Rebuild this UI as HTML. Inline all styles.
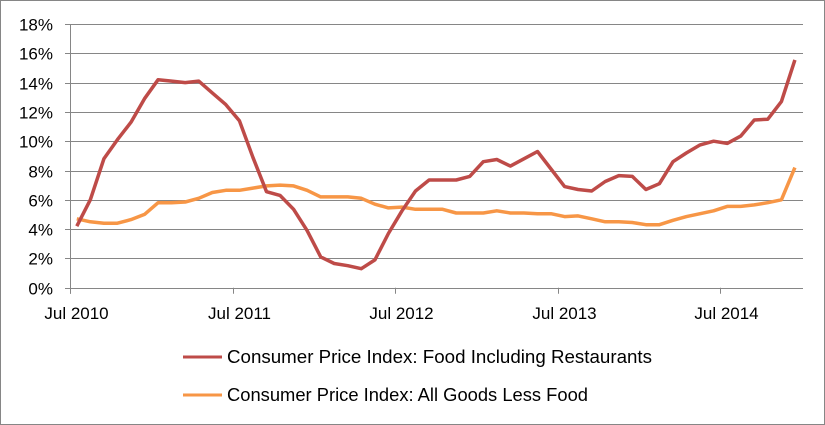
<!DOCTYPE html>
<html><head><meta charset="utf-8"><style>
html,body{margin:0;padding:0;background:#fff}
svg{display:block;font-family:"Liberation Sans",Arial,sans-serif}
</style></head><body>
<svg width="825" height="425" viewBox="0 0 825 425">
<rect x="0.5" y="0.5" width="824" height="424" fill="#fff" stroke="#868686"/>
<g id="grid"></g><g id="axes"></g><g id="series"></g>
<g>
<line x1="183" y1="357" x2="222" y2="357" stroke="#BE4B48" stroke-width="3"/>
<text x="227" y="363" font-size="18" fill="#000" textLength="425" lengthAdjust="spacingAndGlyphs">Consumer Price Index: Food Including Restaurants</text>
<line x1="183" y1="395" x2="222" y2="395" stroke="#F79646" stroke-width="3"/>
<text x="227" y="401" font-size="18" fill="#000" textLength="361" lengthAdjust="spacingAndGlyphs">Consumer Price Index: All Goods Less Food</text>
</g>
</svg>
<script>
const yTicks=[0,2,4,6,8,10,12,14,16,18];
const xLabels=["Jul 2010","Jul 2011","Jul 2012","Jul 2013","Jul 2014"];
const food=[4.2,6.0,8.8,10.1,11.3,12.9,14.2,14.1,14.0,14.1,13.3,12.5,11.4,8.9,6.55,6.3,5.35,3.9,2.1,1.65,1.5,1.3,1.9,3.7,5.25,6.6,7.35,7.35,7.35,7.6,8.6,8.75,8.3,8.8,9.3,8.1,6.9,6.7,6.6,7.25,7.65,7.6,6.7,7.1,8.6,9.2,9.75,10.0,9.85,10.35,11.45,11.5,12.7,15.55];
const goods=[4.7,4.5,4.4,4.4,4.65,5.0,5.8,5.8,5.85,6.1,6.5,6.65,6.65,6.8,6.95,7.0,6.95,6.65,6.2,6.2,6.2,6.1,5.7,5.45,5.5,5.35,5.35,5.35,5.1,5.1,5.1,5.25,5.1,5.1,5.05,5.05,4.85,4.9,4.7,4.5,4.5,4.45,4.3,4.3,4.6,4.85,5.05,5.25,5.55,5.55,5.65,5.8,6.0,8.2];
const NS="http://www.w3.org/2000/svg";
const x0=70,x1=803,step=13.55,y0=287.7,yTop=24;
function X(i){return x0+step*(i+0.5);}
function Y(v){return y0-(v/18)*(y0-yTop);}
function mk(t,a,p){const e=document.createElementNS(NS,t);for(const k in a)e.setAttribute(k,a[k]);p.appendChild(e);return e;}
const grid=document.getElementById('grid'),axes=document.getElementById('axes'),ser=document.getElementById('series');
yTicks.forEach(v=>{
 const y=Math.round(Y(v))+0.5;
 if(v>0){const g=mk('line',{x1:x0,x2:x1,y1:y,y2:y,stroke:'#868686','stroke-width':1},grid);
 
 }
 const tk=mk('line',{x1:x0-5,x2:x0,y1:y,y2:y,stroke:'#868686'},axes);
 
 
 const t=mk('text',{x:53,y:y+6,'text-anchor':'end','font-size':17,fill:'#000'},axes);
 t.textContent=v+'%';
 
 
});
const ya=mk('line',{x1:x0+0.5,x2:x0+0.5,y1:yTop,y2:y0+6,stroke:'#868686'},axes);


const xa=mk('line',{x1:x0,x2:x1,y1:Math.round(y0)+0.5,y2:Math.round(y0)+0.5,stroke:'#868686'},axes);


xLabels.forEach((l,k)=>{
 const xx=Math.round(x0+step*12*k)+0.5;
 const tk=mk('line',{x1:xx,x2:xx,y1:y0,y2:y0+6,stroke:'#868686'},axes);
 
 
 const t=mk('text',{x:xx+6,y:319,'text-anchor':'middle','font-size':17,fill:'#000'},axes);
 t.textContent=l;
 
 
});
function line(data,color,name){
 const p=mk('polyline',{points:data.map((v,i)=>X(i).toFixed(1)+','+Y(v).toFixed(1)).join(' '),fill:'none',stroke:color,'stroke-width':3.5,'stroke-linejoin':'round'},ser);
 
 
}
line(goods,'#F79646','series-all-goods-less-food');
line(food,'#BE4B48','series-food-including-restaurants');
</script>
</body></html>
